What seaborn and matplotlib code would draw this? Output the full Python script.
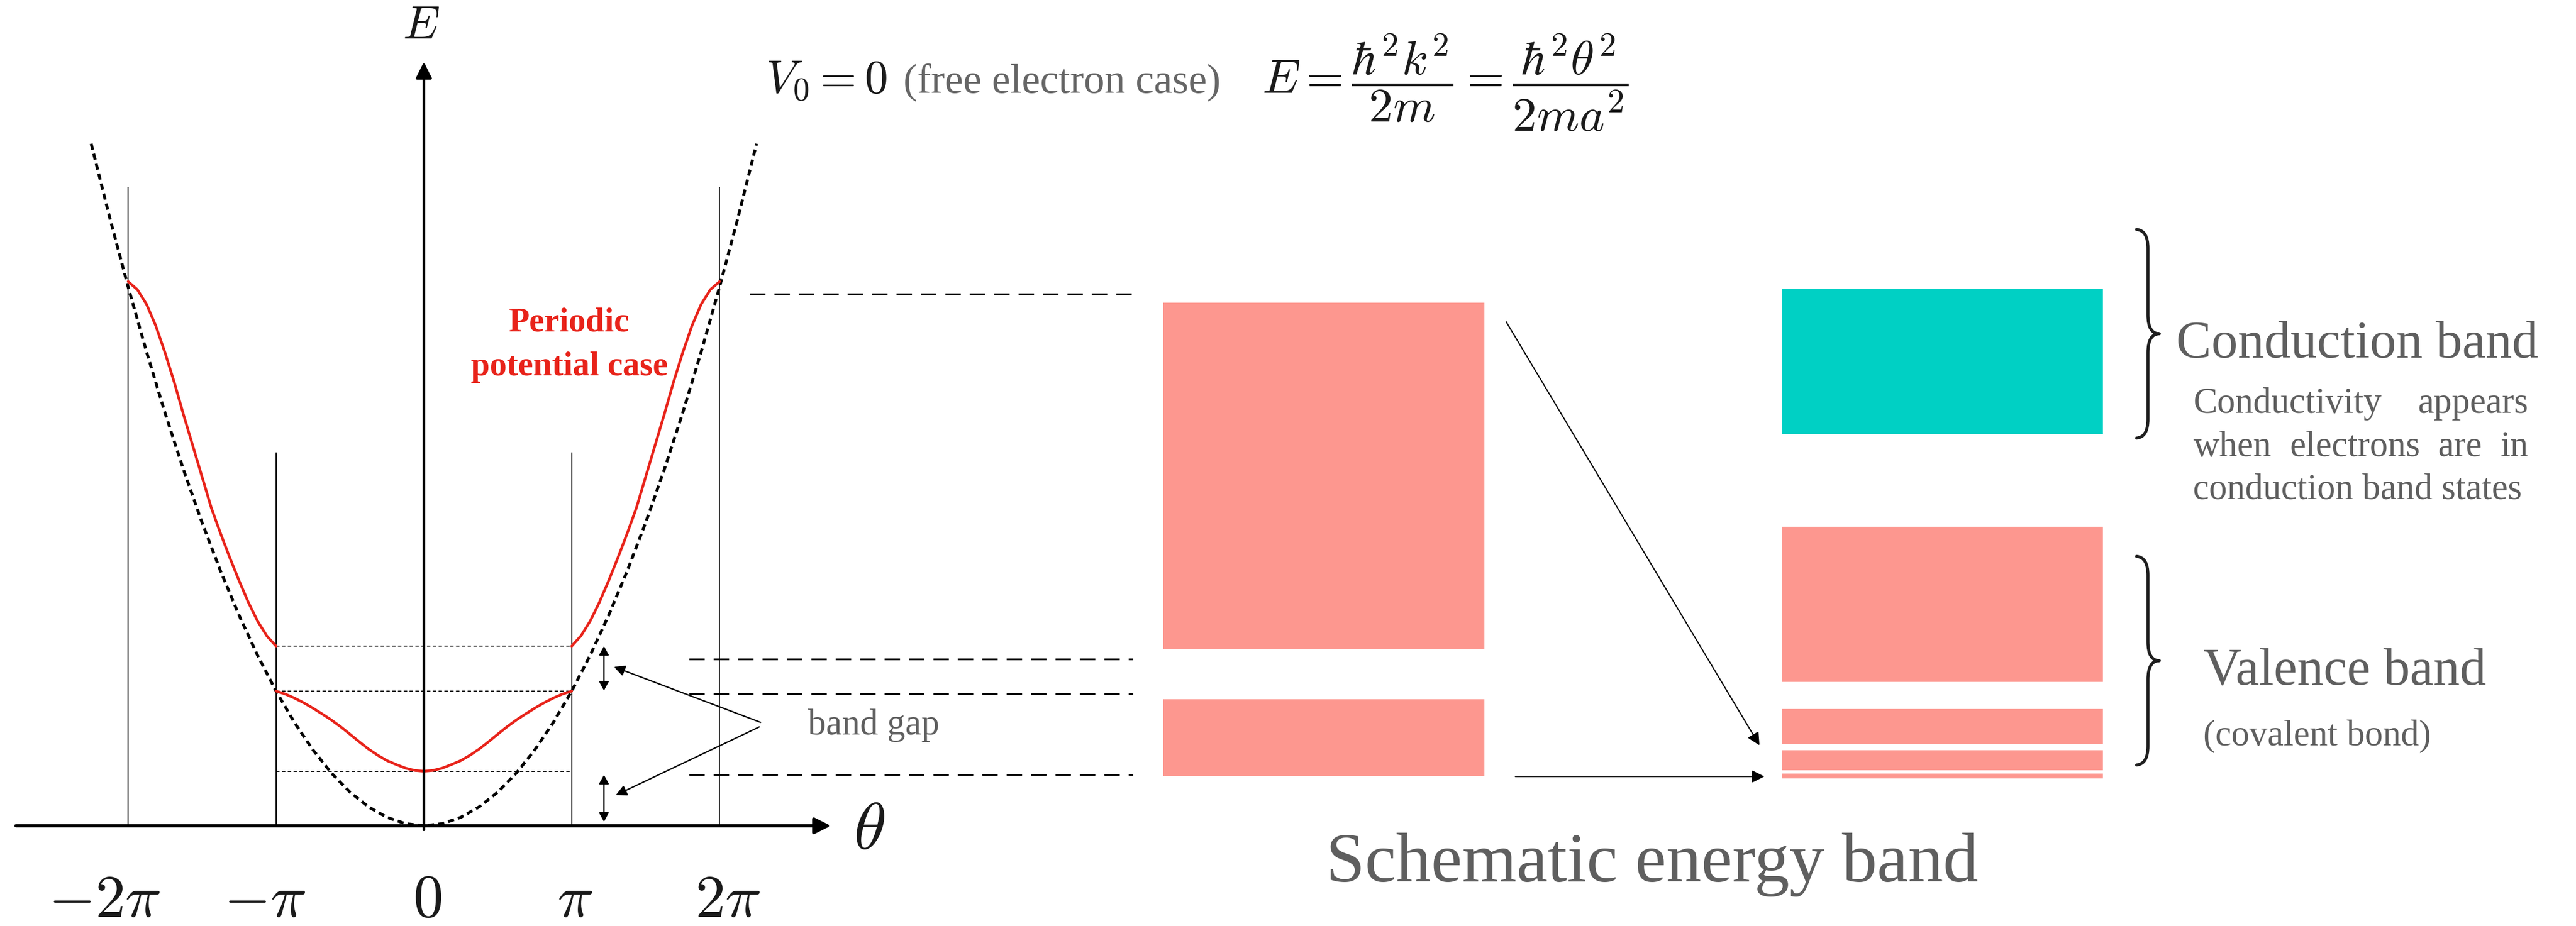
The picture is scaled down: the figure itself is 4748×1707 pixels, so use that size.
import matplotlib
matplotlib.use("Agg")
import matplotlib.pyplot as plt
import seaborn as sns
from matplotlib.path import Path
from matplotlib.patches import PathPatch

# ---------------- data (left panel: theta in units of pi, E in units of E(pi)) -------------
free_theta = [-2.25, -2.125, -2.0, -1.875, -1.75, -1.625, -1.5, -1.375, -1.25, -1.125,
              -1.0, -0.875, -0.75, -0.625, -0.5, -0.375, -0.25, -0.125, 0.0,
              0.125, 0.25, 0.375, 0.5, 0.625, 0.75, 0.875, 1.0, 1.125, 1.25, 1.375,
              1.5, 1.625, 1.75, 1.875, 2.0, 2.125, 2.25]
free_energy = [5.063, 4.516, 4.0, 3.516, 3.063, 2.641, 2.25, 1.891, 1.563, 1.266,
               1.0, 0.766, 0.563, 0.391, 0.25, 0.141, 0.063, 0.016, 0.0,
               0.016, 0.063, 0.141, 0.25, 0.391, 0.563, 0.766, 1.0, 1.266, 1.563, 1.891,
               2.25, 2.641, 3.063, 3.516, 4.0, 4.516, 5.063]

band1_theta = [-1.0, -0.9375, -0.875, -0.8125, -0.75, -0.6875, -0.625, -0.5625, -0.5,
               -0.4375, -0.375, -0.3125, -0.25, -0.1875, -0.125, -0.0625, 0.0,
               0.0625, 0.125, 0.1875, 0.25, 0.3125, 0.375, 0.4375, 0.5,
               0.5625, 0.625, 0.6875, 0.75, 0.8125, 0.875, 0.9375, 1.0]
band1_energy = [1.0, 0.978, 0.948, 0.913, 0.873, 0.83, 0.785, 0.735, 0.68,
                0.624, 0.57, 0.524, 0.484, 0.455, 0.428, 0.411, 0.405,
                0.411, 0.428, 0.455, 0.484, 0.524, 0.57, 0.624, 0.68,
                0.735, 0.785, 0.83, 0.873, 0.913, 0.948, 0.978, 1.0]

band2_right_theta = [1.0, 1.0625, 1.125, 1.1875, 1.25, 1.3125, 1.375, 1.4375, 1.5,
                     1.5625, 1.625, 1.6875, 1.75, 1.8125, 1.875, 1.9375, 2.0]
band2_right_energy = [1.334, 1.41, 1.52, 1.66, 1.82, 1.99, 2.17, 2.36, 2.59,
                      2.82, 3.05, 3.29, 3.51, 3.71, 3.87, 3.98, 4.04]
band2_left_theta = [-2.0, -1.9375, -1.875, -1.8125, -1.75, -1.6875, -1.625, -1.5625, -1.5,
                    -1.4375, -1.375, -1.3125, -1.25, -1.1875, -1.125, -1.0625, -1.0]
band2_left_energy = [4.04, 3.98, 3.87, 3.71, 3.51, 3.29, 3.05, 2.82, 2.59,
                     2.36, 2.17, 1.99, 1.82, 1.66, 1.52, 1.41, 1.334]

zone_boundaries = [-2, -1, 1, 2]
zone_line_tops = [4.74, 2.77, 2.77, 4.74]
gap_levels = [1.334, 1.0, 0.405]
tick_labels = [r"$-2\pi$", r"$-\pi$", r"$0$", r"$\pi$", r"$2\pi$"]

# ---------------- data (schematic energy band, arbitrary energy units) ----------------------
mid_band_bottom = [7.76, 0.0]
mid_band_top = [28.84, 4.7]
right_band_bottom = [20.86, 5.77, 2.0, 0.37, -0.12]
right_band_top = [29.67, 15.22, 4.1, 1.6, 0.17]
connector_levels = [29.36, 7.14, 5.02, 0.1]

PINK = "#fd978f"
TEAL = "#00d0c4"
RED = "#e8231a"
GRAY = "#5f5f5f"
right_band_colors = [TEAL, PINK, PINK, PINK, PINK]
SERIF = ["Liberation Serif", "DejaVu Serif"]

# ---------------- figure ----------------
sns.set_theme(style="white")
plt.rcParams["font.family"] = SERIF
plt.rcParams["mathtext.fontset"] = "cm"

DPI = 100
fig = plt.figure(figsize=(47.48, 17.08), dpi=DPI)
fig.patch.set_facecolor("white")

ax1 = fig.add_axes([0, 0, 1, 1])
ax1.set_xlim(-2.8667, 14.5556)
ax1.set_ylim(-0.7439, 6.1341)
ax1.set_axis_off()

ax2 = fig.add_axes([0, 0, 1, 1])
ax2.set_xlim(0, 15.68)
ax2.set_ylim(-9.1, 47.3)
ax2.set_axis_off()
ax2.patch.set_alpha(0)

# ----- left panel -----
ax1.annotate("", xy=(2.753, 0), xytext=(-2.759, 0),
             arrowprops=dict(arrowstyle="-|>,head_length=0.9,head_width=0.45", lw=4.3,
                             color="black", mutation_scale=20, shrinkA=0, shrinkB=0))
ax1.annotate("", xy=(0, 5.67), xytext=(0, -0.03),
             arrowprops=dict(arrowstyle="-|>,head_length=0.9,head_width=0.45", lw=3.4,
                             color="black", mutation_scale=20, shrinkA=0, shrinkB=0))

ax1.vlines(zone_boundaries, 0, zone_line_tops, color="black", lw=1.5)
ax1.hlines(gap_levels, -1, 1, color="black", lw=1.4, linestyles=[(0, (3.2, 2.3))])

sns.lineplot(x=free_theta, y=free_energy, ax=ax1, color="black", lw=3.9,
             linestyle=(0, (2.1, 1.4)), sort=False, estimator=None)

for th, en in [(band1_theta, band1_energy), (band2_right_theta, band2_right_energy),
               (band2_left_theta, band2_left_energy)]:
    sns.lineplot(x=th, y=en, ax=ax1, color=RED, lw=3.5, sort=False, estimator=None,
                 solid_capstyle="round")

for y0, y1 in [(1.004, 1.334), (0.03, 0.378)]:
    ax1.annotate("", xy=(1.218, y1), xytext=(1.218, y0),
                 arrowprops=dict(arrowstyle="<|-|>,head_length=1.0,head_width=0.55",
                                 lw=1.8, color="black", mutation_scale=10,
                                 shrinkA=0, shrinkB=0))

for (xs, ys), (xe, ye) in [((2.277, 0.768), (1.286, 1.180)),
                           ((2.269, 0.734), (1.298, 0.227))]:
    ax1.annotate("", xy=(xe, ye), xytext=(xs, ys),
                 arrowprops=dict(arrowstyle="-|>,head_length=1.0,head_width=0.5",
                                 lw=1.8, color="black", mutation_scale=12,
                                 shrinkA=0, shrinkB=0))
ax1.text(2.598, 0.683, "band gap", fontsize=48, color=GRAY, ha="left", va="baseline",
         family=SERIF)

ax1.text(-0.02, 5.93, r"$E$", fontsize=62, ha="center", va="center", color="#1a1a1a")
ax1.text(3.01, -0.05, r"$\theta$", fontsize=88, ha="center", va="center", color="#1a1a1a")
tick_label_x = [-2.161, -1.078, 0.022, 1.022, 2.056]
for lx, lab in zip(tick_label_x, tick_labels):
    ax1.text(lx, -0.67, lab, fontsize=80, ha="center", va="baseline", color="#1a1a1a")

ax1.text(0.983, 3.677, "Periodic", fontsize=45, fontweight="bold", color=RED,
         ha="center", va="baseline", family=SERIF)
ax1.text(0.983, 3.349, "potential case", fontsize=45, fontweight="bold", color=RED,
         ha="center", va="baseline", family=SERIF)

ax1.text(2.311, 5.443, r"$V_0=0$", fontsize=62, ha="left", va="baseline", color="#1a1a1a")
ax1.text(3.244, 5.443, "(free electron case)", fontsize=55, ha="left", va="baseline",
         color="#666666", family=SERIF)
ax1.text(5.667, 5.443, r"$E=\dfrac{\hbar^2k^2}{2m}=\dfrac{\hbar^2\theta^2}{2ma^2}$",
         fontsize=64, ha="left", va="baseline", color="#1a1a1a")

# ----- schematic -----
ax2.hlines(connector_levels, [4.565, 4.194, 4.194, 4.194], 6.896, color="black", lw=2.4,
           linestyles=[(0, (8.5, 5.0))])

ax2.bar([8.0575] * len(mid_band_bottom),
        [t - b for t, b in zip(mid_band_top, mid_band_bottom)],
        bottom=mid_band_bottom, width=1.955, color=PINK, linewidth=0, align="center")
ax2.bar([11.823] * len(right_band_bottom),
        [t - b for t, b in zip(right_band_top, right_band_bottom)],
        bottom=right_band_bottom, width=1.954, color=right_band_colors, linewidth=0,
        align="center")

for (xs, ys), (xe, ye) in [((9.168, 27.68), (10.71, 1.9)), ((9.224, 0.0), (10.74, 0.0))]:
    ax2.annotate("", xy=(xe, ye), xytext=(xs, ys),
                 arrowprops=dict(arrowstyle="-|>,head_length=1.0,head_width=0.5",
                                 lw=1.6, color="black", mutation_scale=14,
                                 shrinkA=0, shrinkB=0))


def brace(ax, xl, width, ytop, ybot):
    xv = xl + width * 0.5
    xt = xl + width
    ym = 0.5 * (ytop + ybot)
    c = (ytop - ybot) * 0.09
    verts = [(xl, ytop), (xv, ytop - 0.05 * c), (xv, ytop - c),
             (xv, ym + c),
             (xv, ym), (xt, ym),
             (xv, ym), (xv, ym - c),
             (xv, ybot + c),
             (xv, ybot + 0.05 * c), (xl, ybot)]
    codes = [Path.MOVETO, Path.CURVE3, Path.CURVE3, Path.LINETO,
             Path.CURVE3, Path.CURVE3, Path.CURVE3, Path.CURVE3,
             Path.LINETO, Path.CURVE3, Path.CURVE3]
    ax.add_patch(PathPatch(Path(verts, codes), fill=False, lw=4.0, edgecolor="#1e1e1e",
                           capstyle="round", joinstyle="round"))


brace(ax2, 13.005, 0.139, 33.3, 20.6)
brace(ax2, 13.005, 0.139, 13.4, 0.7)

ax2.text(13.246, 25.55, "Conduction band", fontsize=70, color=GRAY, ha="left",
         va="baseline", family=SERIF)
ax2.text(13.41, 5.62, "Valence band", fontsize=70, color=GRAY, ha="left", va="baseline",
         family=SERIF)
ax2.text(13.41, 1.95, "(covalent bond)", fontsize=48, color=GRAY, ha="left", va="baseline",
         family=SERIF)
ax2.text(8.07, -6.37, "Schematic energy band", fontsize=93, color=GRAY, ha="left",
         va="baseline", family=SERIF)

renderer = fig.canvas.get_renderer()


def justified(ax, words, x0, x1, y, **kw):
    texts = [ax.text(x0, y, w, ha="left", va="baseline", **kw) for w in words]
    widths = [t.get_window_extent(renderer).width for t in texts]
    X0 = ax.transData.transform((x0, y))[0]
    X1 = ax.transData.transform((x1, y))[0]
    gap = (X1 - X0 - sum(widths)) / max(len(words) - 1, 1)
    pos = X0
    inv = ax.transData.inverted()
    for t, w in zip(texts, widths):
        t.set_x(inv.transform((pos, 0))[0])
        pos += w + gap


desc_kw = dict(fontsize=48, color=GRAY, family=SERIF)
justified(ax2, ["Conductivity", "appears"], 13.35, 15.39, 22.17, **desc_kw)
justified(ax2, ["when", "electrons", "are", "in"], 13.35, 15.39, 19.54, **desc_kw)
ax2.text(13.35, 16.92, "conduction band states", ha="left", va="baseline", **desc_kw)

fig.savefig("out.png", dpi=DPI, facecolor="white")
